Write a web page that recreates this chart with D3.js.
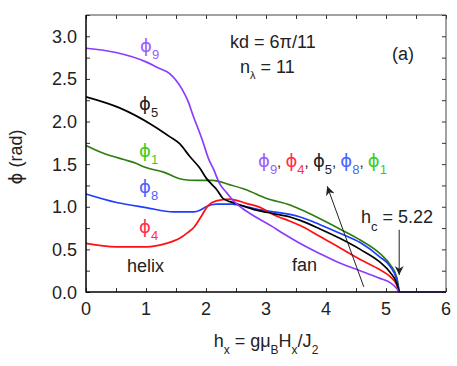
<!DOCTYPE html>
<html><head><meta charset="utf-8">
<script src="https://cdn.jsdelivr.net/npm/d3@7/dist/d3.min.js"></script>
<style>
html,body{margin:0;padding:0;background:#fff;}
text{font-family:"Liberation Sans",Arial,sans-serif;}
.ph{font-family:"DejaVu Sans","Liberation Sans",sans-serif;}
</style></head>
<body><svg id="c" width="457" height="366"></svg>
<script>
// ---- data ----
const hx9  = [0, 0.5, 1.0, 1.2, 1.4, 1.6, 1.7, 1.78, 1.94, 2.05, 2.12, 2.22, 2.35, 2.47, 2.61, 2.83, 3.1, 3.3, 3.57, 3.9, 4.23, 4.57, 4.9, 5.07, 5.18, 5.22, 6.0];
const phi9 = [2.86, 2.81, 2.7, 2.63, 2.56, 2.38, 2.24, 2.08, 1.78, 1.55, 1.45, 1.28, 1.16, 1.06, 0.98, 0.88, 0.77, 0.68, 0.57, 0.45, 0.34, 0.25, 0.16, 0.11, 0.04, 0, 0];

const hx5  = [0, 0.56, 1.1, 1.4, 1.56, 1.73, 1.89, 2.01, 2.1, 2.18, 2.28, 2.4, 2.57, 2.84, 3.12, 3.4, 3.57, 3.9, 4.23, 4.57, 4.9, 5.07, 5.18, 5.22];
const phi5 = [2.29, 2.16, 1.96, 1.82, 1.74, 1.59, 1.46, 1.33, 1.26, 1.2, 1.1, 1.06, 1.02, 0.96, 0.92, 0.88, 0.84, 0.74, 0.63, 0.5, 0.35, 0.23, 0.1, 0];

const hx1  = [0, 0.28, 0.83, 1.0, 1.28, 1.62, 1.83, 2.11, 2.39, 2.67, 3.0, 3.4, 3.57, 3.9, 4.23, 4.57, 4.9, 5.07, 5.18, 5.22];
const phi1 = [1.72, 1.63, 1.51, 1.46, 1.41, 1.32, 1.31, 1.31, 1.26, 1.2, 1.1, 1.02, 0.97, 0.86, 0.74, 0.61, 0.45, 0.32, 0.17, 0];

const hx8  = [0, 0.51, 1.0, 1.46, 1.8, 1.9, 2.0, 2.17, 2.44, 2.67, 2.94, 3.12, 3.4, 3.57, 3.9, 4.23, 4.57, 4.9, 5.07, 5.18, 5.22];
const phi8 = [1.15, 1.05, 0.99, 0.94, 0.94, 0.96, 1.0, 1.03, 1.03, 1.0, 0.96, 0.94, 0.91, 0.88, 0.79, 0.69, 0.58, 0.41, 0.3, 0.14, 0];

const hx4  = [0, 0.5, 1.0, 1.34, 1.56, 1.7, 1.8, 1.94, 2.03, 2.17, 2.39, 2.67, 2.94, 3.12, 3.4, 3.57, 3.9, 4.23, 4.57, 4.9, 5.07, 5.18, 5.22];
const phi4 = [0.57, 0.53, 0.53, 0.57, 0.63, 0.7, 0.76, 0.91, 1.01, 1.07, 1.09, 1.04, 0.98, 0.91, 0.83, 0.78, 0.65, 0.52, 0.38, 0.26, 0.18, 0.08, 0];

const xTicks = [0, 1, 2, 3, 4, 5, 6];
const yTicks = [0.0, 0.5, 1.0, 1.5, 2.0, 2.5, 3.0];

const series = [
  {hx: hx1, phi: phi1, color: "#2e7d12"},
  {hx: hx8, phi: phi8, color: "#1f3dff"},
  {hx: hx4, phi: phi4, color: "#ff1010"},
  {hx: hx5, phi: phi5, color: "#000000"},
  {hx: hx9, phi: phi9, color: "#8a3cff"}
];

// ---- layout ----
const svg = d3.select("#c");
const L = 86, R = 446, T = 15, B = 292;
const x = d3.scaleLinear().domain([0, 6]).range([L, R]);
const y = d3.scaleLinear().domain([0, 3.25]).range([B, T]);
const FS = 18;
const PHI = "\u03D5";

// axes
const xMinor = d3.range(0, 6.01, 0.5);
const yMinor = d3.range(0, 3.26, 0.25);
const gb = svg.append("g").attr("transform", `translate(0,${B})`)
  .call(d3.axisBottom(x).tickValues(xMinor).tickSize(-4).tickFormat(""));
const gt = svg.append("g").attr("transform", `translate(0,${T})`)
  .call(d3.axisTop(x).tickValues(xMinor).tickSize(-4).tickFormat(""));
const gl = svg.append("g").attr("transform", `translate(${L},0)`)
  .call(d3.axisLeft(y).tickValues(yMinor).tickSize(-4).tickFormat(""));
const gr = svg.append("g").attr("transform", `translate(${R},0)`)
  .call(d3.axisRight(y).tickValues(yMinor).tickSize(-4).tickFormat(""));
[gb, gt, gl, gr].forEach(g => {
  g.select(".domain").remove();
  g.selectAll(".tick line").attr("stroke", "#333").attr("stroke-width", 1);
});

// tick labels
svg.append("g").selectAll("text").data(xTicks).join("text")
  .attr("x", d => x(d)).attr("y", 315).attr("text-anchor", "middle")
  .attr("font-size", FS).attr("fill", "#222").text(d => d);
svg.append("g").selectAll("text").data(yTicks).join("text")
  .attr("x", 77).attr("y", d => y(d) + 6.5).attr("text-anchor", "end")
  .attr("font-size", FS).attr("fill", "#222").text(d => d.toFixed(1));

// curves
const line = d3.line().x(d => x(d[0])).y(d => y(d[1])).curve(d3.curveMonotoneX);
series.forEach(s => {
  svg.append("path").datum(s.hx.map((h, i) => [h, s.phi[i]]))
    .attr("d", line).attr("fill", "none").attr("stroke", s.color)
    .attr("stroke-width", 1.7).attr("stroke-linejoin", "round");
});

// frame
svg.append("line").attr("x1", L).attr("x2", R).attr("y1", T).attr("y2", T).attr("stroke", "#444").attr("stroke-width", 1);
svg.append("line").attr("x1", R).attr("x2", R).attr("y1", T).attr("y2", B).attr("stroke", "#444").attr("stroke-width", 1);
svg.append("line").attr("x1", L).attr("x2", L).attr("y1", T).attr("y2", B + 0.5).attr("stroke", "#000").attr("stroke-width", 1.5);
svg.append("line").attr("x1", L).attr("x2", R).attr("y1", B).attr("y2", B).attr("stroke", "#000").attr("stroke-width", 1.5);

// helper for phi labels with subscript
function phiLabel(px, py, sub, color) {
  const t = svg.append("text").attr("x", px).attr("y", py).attr("font-size", FS).attr("fill", color);
  t.append("tspan").attr("class", "ph").text(PHI);
  t.append("tspan").attr("dy", 7).attr("font-size", 13).text(sub);
  return t;
}
phiLabel(140, 52, "9", "#9a5cff");
phiLabel(139, 110, "5", "#222");
phiLabel(139, 157, "1", "#3ccc1e");
phiLabel(139, 193, "8", "#4a62ff");
phiLabel(139, 233, "4", "#ff2e4e");

// legend line of phis
const lg = svg.append("text").attr("x", 258).attr("y", 167).attr("font-size", FS);
const items = [["9", "#9a5cff"], ["4", "#ff2e4e"], ["5", "#222"], ["8", "#4a62ff"], ["1", "#3ccc1e"]];
items.forEach((it, i) => {
  if (i > 0) lg.append("tspan").attr("fill", "#222").attr("dy", -7).attr("font-size", 15).text(", ");
  lg.append("tspan").attr("class", "ph").attr("fill", it[1]).text(PHI);
  lg.append("tspan").attr("fill", it[1]).attr("dy", 7).attr("font-size", 13).text(it[0]);
});

// annotations
svg.append("text").attr("x", 230).attr("y", 48).attr("font-size", FS).attr("fill", "#222").text("kd = 6π/11");
const nl = svg.append("text").attr("x", 240).attr("y", 73).attr("font-size", FS).attr("fill", "#222");
nl.append("tspan").text("n");
nl.append("tspan").attr("dy", 6).attr("font-size", 11).text("λ");
nl.append("tspan").attr("dy", -6).text(" = 11");
svg.append("text").attr("x", 392).attr("y", 60).attr("font-size", FS).attr("fill", "#222").text("(a)");
svg.append("text").attr("x", 127).attr("y", 272).attr("font-size", FS).attr("fill", "#222").text("helix");
svg.append("text").attr("x", 292).attr("y", 271).attr("font-size", FS).attr("fill", "#222").text("fan");
const hc = svg.append("text").attr("x", 361).attr("y", 223).attr("font-size", FS).attr("fill", "#222");
hc.append("tspan").text("h");
hc.append("tspan").attr("dy", 8).attr("font-size", 13).text("c");
hc.append("tspan").attr("dy", -8).text(" = 5.22");

// arrows
svg.append("defs").append("marker").attr("id", "ah").attr("viewBox", "0 0 10 10")
  .attr("refX", 10).attr("refY", 5).attr("markerWidth", 9).attr("markerHeight", 9)
  .attr("markerUnits", "userSpaceOnUse").attr("orient", "auto")
  .append("path").attr("d", "M0,0 L10,5 L0,10 L3,5 Z").attr("fill", "#222");
svg.append("line").attr("x1", x(5.22)).attr("y1", y(0.73)).attr("x2", x(5.22)).attr("y2", y(0.2))
  .attr("stroke", "#222").attr("stroke-width", 1).attr("marker-end", "url(#ah)");
svg.append("line").attr("x1", x(4.63)).attr("y1", y(0.06)).attr("x2", x(4.02)).attr("y2", y(1.24))
  .attr("stroke", "#222").attr("stroke-width", 1).attr("marker-end", "url(#ah)");

// axis titles
const yt = svg.append("text").attr("transform", "translate(22,157) rotate(-90)")
  .attr("text-anchor", "middle").attr("font-size", FS).attr("fill", "#222");
yt.append("tspan").attr("class", "ph").text(PHI);
yt.append("tspan").text(" (rad)");
const xt = svg.append("text").attr("x", 266).attr("y", 347).attr("text-anchor", "middle").attr("font-size", FS).attr("fill", "#222");
xt.append("tspan").text("h");
xt.append("tspan").attr("dy", 7).attr("font-size", 12).text("x");
xt.append("tspan").attr("dy", -7).text(" = gμ");
xt.append("tspan").attr("dy", 7).attr("font-size", 12).text("B");
xt.append("tspan").attr("dy", -7).text("H");
xt.append("tspan").attr("dy", 7).attr("font-size", 12).text("x");
xt.append("tspan").attr("dy", -7).text("/J");
xt.append("tspan").attr("dy", 7).attr("font-size", 12).text("2");
</script></body></html>
